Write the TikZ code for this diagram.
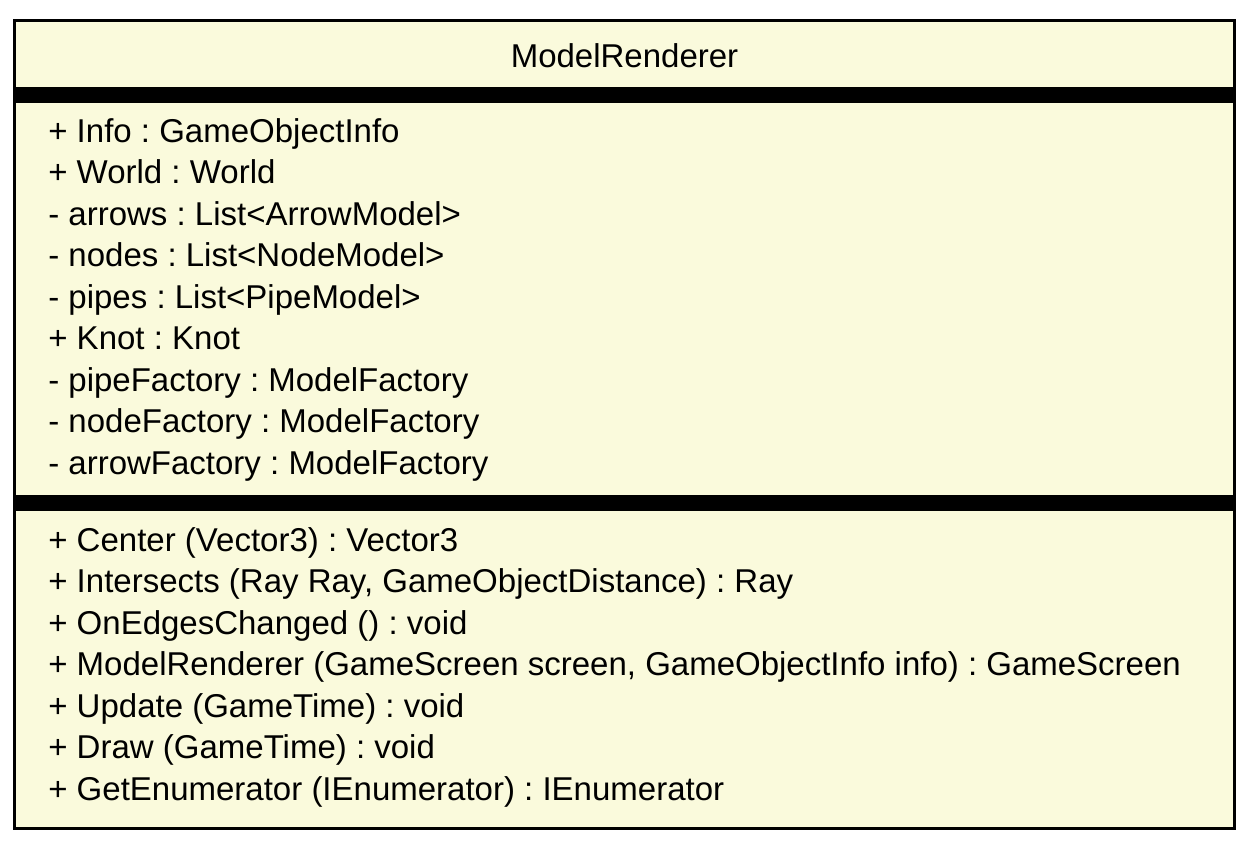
\documentclass[tikz,border=0pt]{standalone}
\usepackage{fontspec}
\setmainfont{Liberation Sans}
\definecolor{umlfill}{RGB}{250,250,220}
\tikzset{
  member/.style={anchor=base west,inner sep=0pt,font=\fontsize{19.8}{24}\selectfont\frenchspacing},
  title/.style={anchor=base,inner sep=0pt,font=\fontsize{19.8}{24}\selectfont}
}
\begin{document}
\begin{tikzpicture}[x=0.6pt,y=-0.6pt]
        \useasboundingbox (0,0) rectangle (1250,850);
        \draw[line width=1.8pt,fill=umlfill] (14.5,20.5) rectangle (1234.5,828.5);
        \fill[black] (14.5,87) rectangle (1234.5,103); % attributes
        \fill[black] (14.5,495) rectangle (1234.5,511); % methods
        \node[title] (cls) at (624.5,67) {ModelRenderer};
        \node[member] (info) at (48,142) {+ Info : GameObjectInfo};
        \node[member] (world) at (48,183.5) {+ World : World};
        \node[member] (arrows) at (48,225) {- arrows : List<ArrowModel>};
        \node[member] (nodes) at (48,266.5) {- nodes : List<NodeModel>};
        \node[member] (pipes) at (48,308) {- pipes : List<PipeModel>};
        \node[member] (knot) at (48,349.5) {+ Knot : Knot};
        \node[member] (pipef) at (48,391) {- pipeFactory : ModelFactory};
        \node[member] (nodef) at (48,432.5) {- nodeFactory : ModelFactory};
        \node[member] (arrowf) at (48,474) {- arrowFactory : ModelFactory};
        \node[member] (center) at (48,551) {+ Center (Vector3) : Vector3};
        \node[member] (inter) at (48,592.5) {+ Intersects (Ray Ray, GameObjectDistance) : Ray};
        \node[member] (edges) at (48,634) {+ OnEdgesChanged () : void};
        \node[member] (ctor) at (48,675.5) {+ ModelRenderer (GameScreen screen, GameObjectInfo info) : GameScreen};
        \node[member] (update) at (48,717) {+ Update (GameTime) : void};
        \node[member] (draw) at (48,758.5) {+ Draw (GameTime) : void};
        \node[member] (enum) at (48,800) {+ GetEnumerator (IEnumerator) : IEnumerator};
    \end{tikzpicture}
\end{document}
